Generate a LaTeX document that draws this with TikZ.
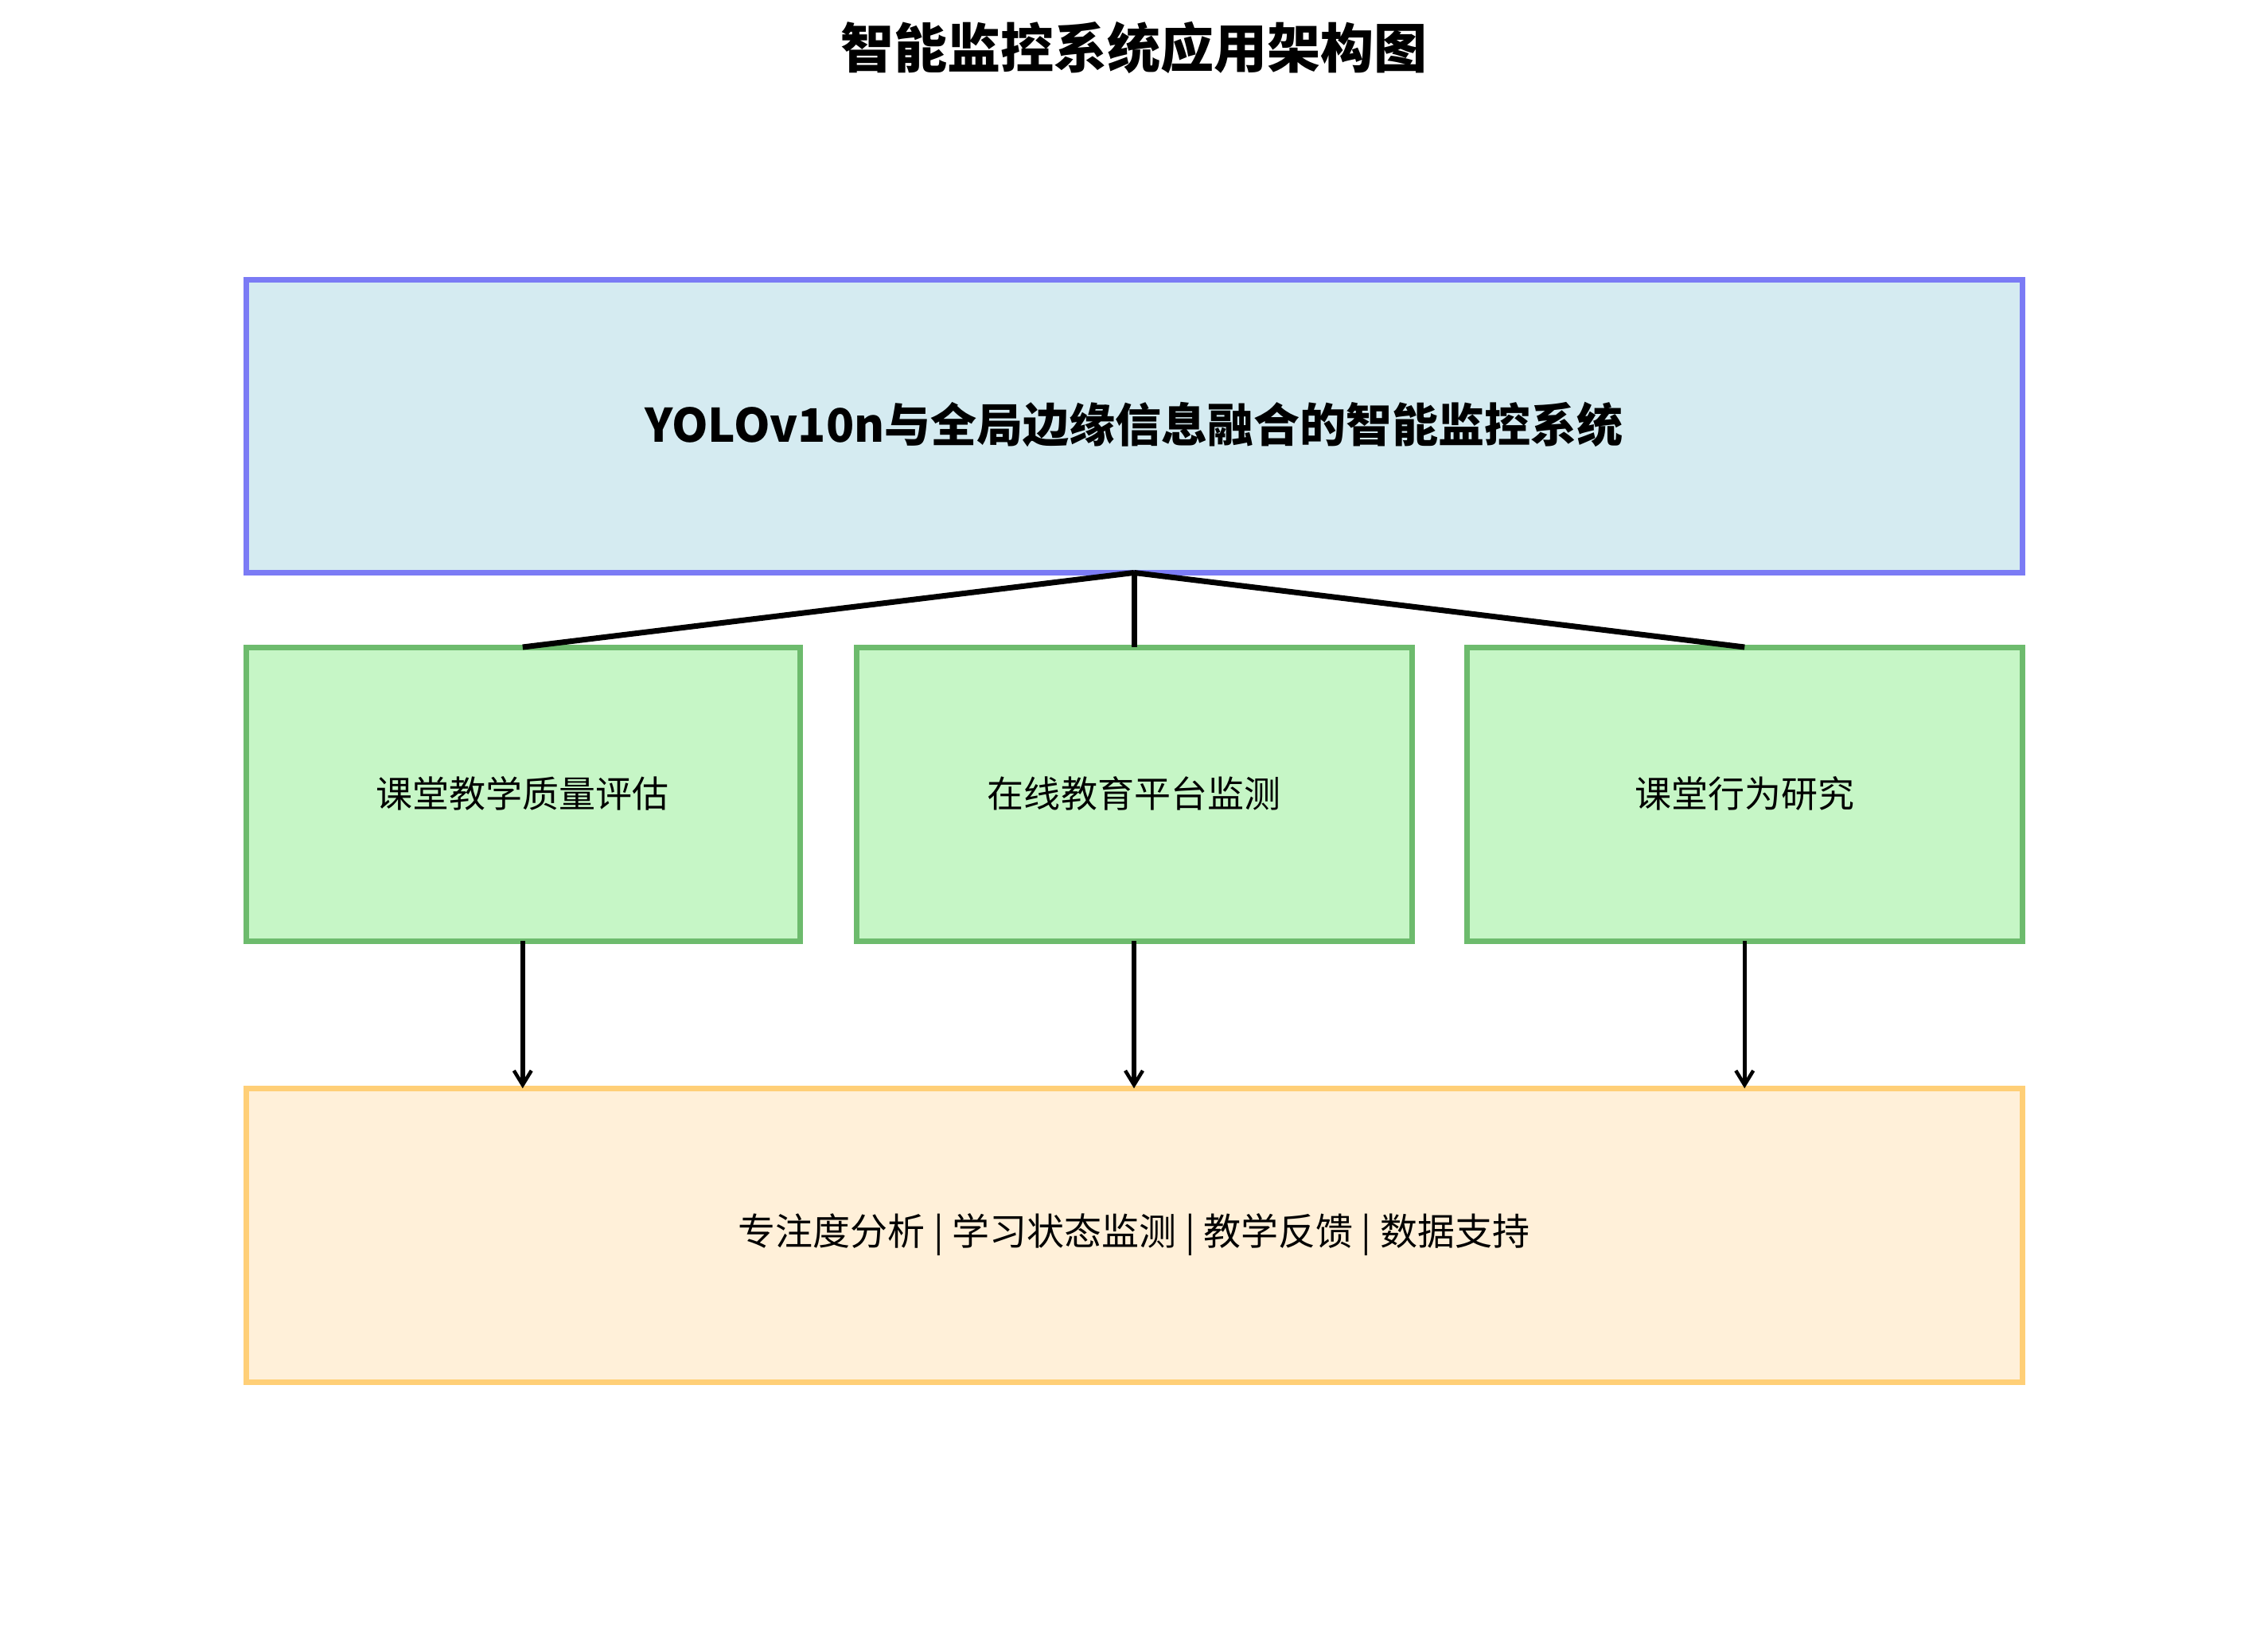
\documentclass[tikz,border=0pt]{standalone}
\usepackage{fontspec}
\setmainfont{Noto Sans CJK SC}
\usetikzlibrary{arrows.meta}
\definecolor{tfill}{HTML}{D5EBF1}\definecolor{tdraw}{HTML}{7B7BF5}
\definecolor{gfill}{HTML}{C6F6C6}\definecolor{gdraw}{HTML}{6DBB6D}
\definecolor{ofill}{HTML}{FFF0D9}\definecolor{odraw}{HTML}{FFCF77}
\begin{document}
\begin{tikzpicture}[x=0.995pt,y=-0.995pt,
  box/.style={draw,line width=7pt,inner sep=0pt},
  conn/.style={line width=7pt},
  arr/.style={line width=5.5pt,-{Straight Barb[length=18pt,width=22pt,line width=4.5pt]}}]
\useasboundingbox (0,0) rectangle (2864,2054);
\node[font=\fontsize{67}{80}\selectfont\bfseries] (title) at (1432,60) {智能监控系统应用架构图};
\draw[box,fill=tfill,draw=tdraw] (311,353) rectangle (2554,723);
\node[font=\fontsize{58}{70}\selectfont\bfseries] (top) at (1432,536) {YOLOv10n与全局边缘信息融合的智能监控系统};
\coordinate (tb) at (1432,723);
\draw[box,fill=gfill,draw=gdraw] (311,817) rectangle (1010,1188);
\draw[box,fill=gfill,draw=gdraw] (1082,817) rectangle (1783,1188);
\draw[box,fill=gfill,draw=gdraw] (1853,817) rectangle (2554,1188);
\node[font=\fontsize{46}{55}\selectfont] (g1) at (660,1002) {课堂教学质量评估};
\node[font=\fontsize{46}{55}\selectfont] (g2) at (1432,1002) {在线教育平台监测};
\node[font=\fontsize{46}{55}\selectfont] (g3) at (2203,1002) {课堂行为研究};
\coordinate (g1t) at (660,817);\coordinate (g2t) at (1432,817);\coordinate (g3t) at (2203,817);
\coordinate (g1b) at (660,1188);\coordinate (g2b) at (1432,1188);\coordinate (g3b) at (2203,1188);
\draw[box,fill=ofill,draw=odraw] (311,1374) rectangle (2554,1745);
\node[font=\fontsize{47}{56}\selectfont] (bot) at (1432,1559) {专注度分析 | 学习状态监测 | 教学反馈 | 数据支持};
\coordinate (b1) at (660,1374);\coordinate (b2) at (1432,1374);\coordinate (b3) at (2203,1374);
\draw[conn] (tb) -- (g1t); \draw[conn] (tb) -- (g2t); \draw[conn] (tb) -- (g3t);
\draw[arr] (g1b) -- (b1); \draw[arr] (g2b) -- (b2); \draw[arr] (g3b) -- (b3);
\end{tikzpicture}
\end{document}
